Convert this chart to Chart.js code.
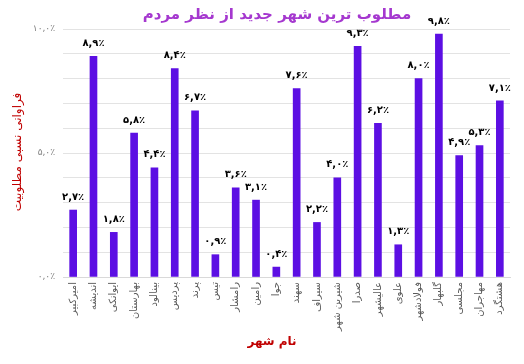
<!DOCTYPE html>
<html>
<head>
<meta charset="utf-8">
<script src="https://cdn.jsdelivr.net/npm/chart.js@4.4.1/dist/chart.umd.min.js"></script>
<style>
  html, body { margin: 0; padding: 0; background: #ffffff; }
  #wrap { width: 524px; height: 364px; }
</style>
</head>
<body>
<div id="wrap"><canvas id="chart" width="524" height="364"></canvas></div>
<script>
// city names (x axis)
const cities = [
  "امیرکبیر", "اندیشه", "ایوانکی", "بهارستان", "بینالود", "پردیس", "پرند",
  "تیس", "رامشار", "رامین", "جوا", "سهند", "سیراف", "شیرین شهر", "صدرا",
  "عالیشهر", "علوی", "فولادشهر", "گلبهار", "مجلسی", "مهاجران", "هشتگرد"
];
// relative frequency in percent
const shares = [2.7, 8.9, 1.8, 5.8, 4.4, 8.4, 6.7, 0.9, 3.6, 3.1, 0.4, 7.6, 2.2, 4.0, 9.3, 6.2, 1.3, 8.0, 9.8, 4.9, 5.3, 7.1];
// y ticks with a label
const labelledTicks = [0, 5, 10];

const chartTitle = "مطلوب ترین شهر جدید از نظر مردم";
const yTitle = "فراوانی نسبی مطلوبیت";
const xTitle = "نام شهر";

const faDigits = "۰۱۲۳۴۵۶۷۸۹";
// 2.7 -> ۲,۷٪
const toFa = (v) => v.toFixed(1).replace(/\d/g, (d) => faDigits[d]).replace(".", ",") + "٪";

const fontFam = '"DejaVu Sans", sans-serif';

// value labels above the bars plus the titles
const extras = {
  id: "extras",
  afterDatasetsDraw(chart) {
    const ctx = chart.ctx;
    const meta = chart.getDatasetMeta(0);
    ctx.save();
    ctx.fillStyle = "#000000";
    ctx.font = "bold 10px " + fontFam;
    ctx.textAlign = "center";
    ctx.textBaseline = "bottom";
    meta.data.forEach((bar, i) => {
      ctx.fillText(toFa(shares[i]), bar.x, bar.y - 8);
    });

    // chart title
    ctx.fillStyle = "#a538cf";
    ctx.font = "bold 15px " + fontFam;
    ctx.textBaseline = "middle";
    ctx.fillText(chartTitle, 277, 15);

    // x axis title
    ctx.fillStyle = "#c00000";
    ctx.font = "bold 12px " + fontFam;
    ctx.fillText(xTitle, 272, 342);

    // y axis title
    ctx.translate(18, 152);
    ctx.rotate(-Math.PI / 2);
    ctx.font = "12px " + fontFam;
    ctx.fillText(yTitle, 0, 0);
    ctx.restore();
  },
};

new Chart(document.getElementById("chart"), {
  type: "bar",
  plugins: [extras],
  data: {
    labels: cities,
    datasets: [
      {
        data: shares,
        backgroundColor: "#5c0fe3",
        barThickness: 7,
      },
    ],
  },
  options: {
    responsive: false,
    animation: false,
    layout: { padding: { top: 29, right: 14, left: 0, bottom: 0 } },
    plugins: {
      legend: { display: false },
      tooltip: { enabled: false },
      title: { display: false },
    },
    scales: {
      x: {
        grid: { display: false, drawTicks: false },
        border: { color: "#d9d9d9" },
        ticks: {
          minRotation: 90,
          maxRotation: 90,
          autoSkip: false,
          padding: 5,
          color: "#595959",
          font: { family: fontFam, size: 10 },
        },
        afterFit: (scale) => { scale.height = 87; },
      },
      y: {
        min: 0,
        max: 10,
        grid: { color: "#e3e3e3", drawTicks: false },
        border: { display: false },
        ticks: {
          stepSize: 1,
          padding: 8,
          color: "#7f7f7f",
          font: { family: fontFam, size: 9 },
          callback: (v) => (labelledTicks.includes(v) ? toFa(v) : ""),
        },
        afterFit: (scale) => { scale.width = 63; },
      },
    },
  },
});
</script>
</body>
</html>
